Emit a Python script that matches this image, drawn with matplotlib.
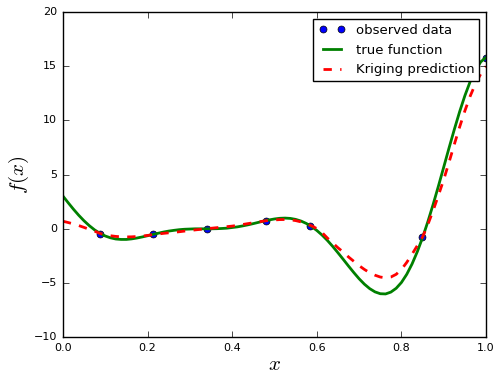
import matplotlib
matplotlib.use("Agg")
import matplotlib.pyplot as plt

x_grid = [i * 0.0125 for i in range(81)]
true_f = [3.03, 2.41, 1.81, 1.25, 0.74, 0.29, -0.10, -0.41, -0.66, -0.83,
          -0.94, -0.98, -0.98, -0.93, -0.85, -0.75, -0.64, -0.52, -0.41, -0.30,
          -0.21, -0.14, -0.08, -0.04, -0.02, 0.00, 0.00, 0.00, 0.00, 0.01,
          0.03, 0.06, 0.12, 0.18, 0.27, 0.37, 0.48, 0.60, 0.72, 0.82,
          0.91, 0.97, 0.99, 0.96, 0.87, 0.72, 0.50, 0.21, -0.15, -0.58,
          -1.07, -1.62, -2.21, -2.82, -3.44, -4.04, -4.61, -5.11, -5.52, -5.82,
          -5.99, -6.01, -5.84, -5.49, -4.95, -4.20, -3.25, -2.11, -0.80, 0.67,
          2.27, 3.96, 5.71, 7.47, 9.18, 10.81, 12.30, 13.60, 14.65, 15.41,
          15.83]
kriging = [0.70, 0.58, 0.45, 0.30, 0.13, -0.05, -0.22, -0.42, -0.55, -0.64,
           -0.70, -0.74, -0.75, -0.74, -0.71, -0.67, -0.61, -0.54, -0.48, -0.42,
           -0.37, -0.32, -0.27, -0.21, -0.16, -0.10, -0.05, 0.00, 0.05, 0.10,
           0.15, 0.20, 0.25, 0.32, 0.40, 0.48, 0.56, 0.64, 0.72, 0.78,
           0.82, 0.85, 0.86, 0.83, 0.76, 0.64, 0.47, 0.28, 0.02, -0.35,
           -0.85, -1.30, -1.75, -2.15, -2.60, -3.00, -3.40, -3.75, -4.05, -4.28,
           -4.45, -4.52, -4.45, -4.20, -3.75, -3.10, -2.35, -1.55, -0.75, 0.40,
           1.70, 3.10, 4.55, 6.15, 7.80, 9.40, 10.90, 12.25, 13.40, 14.30,
           15.00]
obs_x = [0.0875, 0.213, 0.34, 0.48, 0.584, 0.849, 1.0]
obs_y = [-0.45, -0.52, 0.0, 0.75, 0.30, -0.80, 15.8]

plt.style.use("classic")
plt.rcParams["mathtext.fontset"] = "cm"

fig = plt.figure(figsize=(4.95, 3.78), dpi=100)
ax = fig.add_axes([0.127, 0.108, 0.855, 0.860])

ax.plot(obs_x, obs_y, "bo", ls="none", ms=5, label="observed data")
ax.plot(x_grid, true_f, "g-", lw=2, label="true function")
ax.plot(x_grid, kriging, "r--", lw=2, label="Kriging prediction")

ax.set_xlim(0, 1)
ax.set_ylim(-10, 20)
ax.tick_params(labelsize=8)
ax.set_xlabel("$x$", fontsize=15, labelpad=1)
ax.set_ylabel("$f(x)$", fontsize=15, labelpad=2)
ax.legend(loc="upper right", numpoints=2, fontsize=9.5)

fig.savefig("out.png", dpi=100)
